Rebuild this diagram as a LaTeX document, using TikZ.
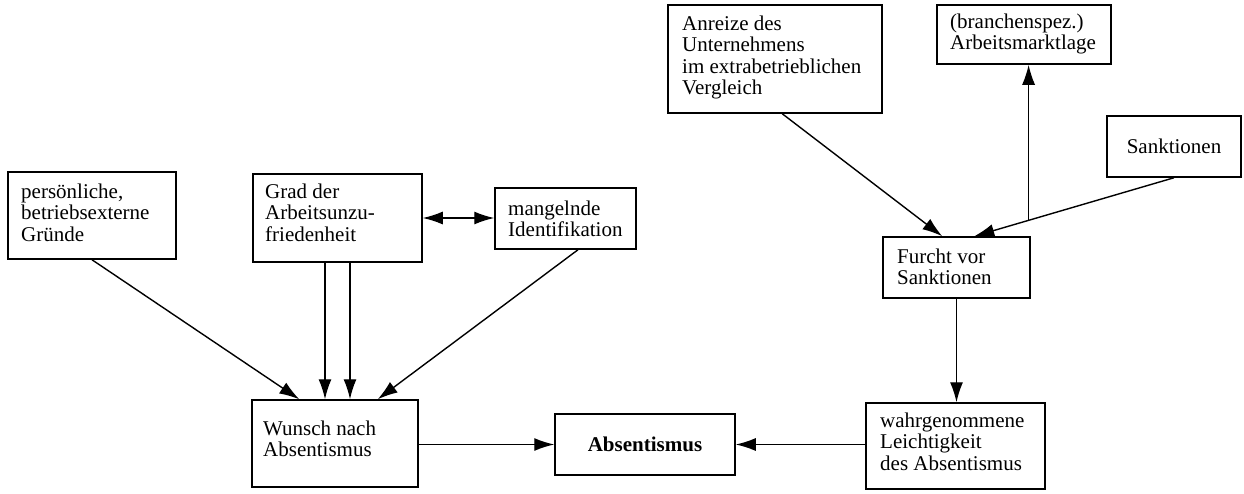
\documentclass[tikz,border=0pt]{standalone}
\usepackage{fontspec}
\setmainfont{Liberation Serif}
\usetikzlibrary{arrows.meta}
\begin{document}
\begin{tikzpicture}[x=1pt,y=-1pt,
  % frame={left}{top}{right}{bottom}
  frame/.style n args={4}{draw,line width=1.5pt,inner sep=0pt,
    minimum width={(#3)-(#1)},minimum height={(#4)-(#2)},
    at={({((#1)+(#3))/2},{((#2)+(#4))/2})}},
  txt/.style={inner sep=0pt,anchor=north west,align=left,
    font=\fontsize{21}{21.5}\selectfont},
  ctxt/.style={font=\fontsize{21}{21.5}\selectfont},
  btxt/.style={font=\fontsize{21}{21.5}\selectfont\bfseries},
  tip/.tip={Latex[length=20pt,width=13pt]},
  arr/.style={line width=1.4pt,-tip},
  darr/.style={line width=1.4pt,tip-tip},
]
\useasboundingbox (0,0) rectangle (1244,493);

% left group
\node[frame={8}{172}{176}{259}] (pers) {};
\node[txt] (perstext) at (21,183.5) {persönliche,\\betriebsexterne\\Gründe};

\node[frame={253}{174}{422}{262}] (grad) {};
\node[txt] (gradtext) at (265,183.5) {Grad der\\Arbeitsunzu-\\friedenheit};

\node[frame={495}{188}{636}{249}] (mang) {};
\node[txt] (mangtext) at (508,200.5) {mangelnde\\Identifikation};

\node[frame={252}{400}{418}{487}] (wunsch) {};
\node[txt] (wunschtext) at (263,420.5) {Wunsch nach\\Absentismus};

% centre
\node[frame={555}{414}{735}{475},btxt] (abs) {Absentismus};

% right group
\node[frame={866}{403}{1045}{489}] (wahr) {};
\node[txt] (wahrtext) at (880,412.5) {wahrgenommene\\Leichtigkeit\\des Absentismus};

\node[frame={883}{237}{1030}{298}] (furcht) {};
\node[txt] (furchttext) at (897,248.5) {Furcht vor\\Sanktionen};

\node[frame={668}{5}{882}{113}] (anreize) {};
\node[txt] (anreizetext) at (682,15.5) {Anreize des\\Unternehmens\\im extrabetrieblichen\\Vergleich};

\node[frame={937}{5}{1111}{64}] (bran) {};
\node[txt] (brantext) at (950,13.5) {(branchenspez.)\\Arbeitsmarktlage};

\node[frame={1107}{116}{1241}{177},ctxt] (sank) {Sanktionen};

% connectors
\draw[arr] (pers.south) -- ([xshift=48]wunsch.north west);
\coordinate (ga) at ([xshift=-12.5]grad.south);
\coordinate (gb) at ([xshift=12.5]grad.south);
\draw[arr] (ga) -- (ga |- wunsch.north);
\draw[arr] (gb) -- (gb |- wunsch.north);
\draw[arr] ([xshift=12.5]mang.south) -- ([xshift=-41]wunsch.north east);
\draw[darr] (grad.east) -- (grad.east -| mang.west);

\draw[arr] (abs.west -| wunsch.east) -- (abs.west);
\draw[arr] (abs.east -| wahr.west) -- (abs.east);

\draw[arr] (furcht.south) -- (furcht.south |- wahr.north);
\draw[arr] ([xshift=115]anreize.south west) -- ([xshift=60]furcht.north west);
\draw[arr] (sank.south) -- coordinate[pos=0.728] (fork) ([xshift=92]furcht.north west);
\draw[arr] (fork) -- (fork |- bran.south);
\end{tikzpicture}
\end{document}
